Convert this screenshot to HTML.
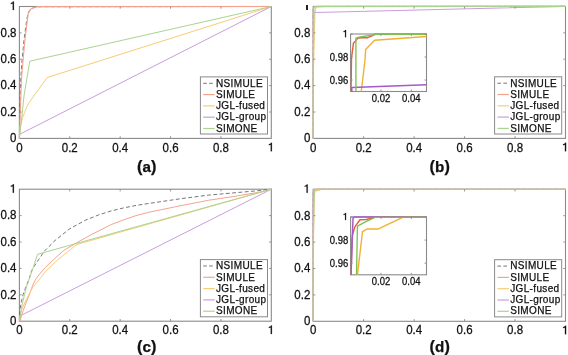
<!DOCTYPE html>
<html><head><meta charset="utf-8"><style>
html,body{margin:0;padding:0;background:#fff;}
body{width:568px;height:355px;overflow:hidden;}
svg{display:block;will-change:transform;}
text{font-family:"Liberation Sans", sans-serif;fill:#111;stroke:#111;stroke-width:0.25px;}
</style></head><body>
<svg width="568" height="355" viewBox="0 0 568 355">
<rect width="568" height="355" fill="#fff"/>
<rect x="19.4" y="6.5" width="251.9" height="131.9" fill="none" stroke="#8a8a8a" stroke-width="1.1"/>
<polyline points="19.4,138.4 19.5,122 20,100 20.7,80 21.9,62 24,40 26.4,22 28,13 30.5,9.2 34,7.5 40,6.7 271.3,6.5" fill="none" stroke="#666666" stroke-width="0.9" stroke-linejoin="round" stroke-dasharray="3.9,2.4"/>
<polyline points="19.4,138.4 19.6,130 20,122 20.7,100 21.4,80 23,61 24.9,40 27.4,20 28.3,13.4 30.8,9 34.6,7.3 38.4,6.6 271.3,6.5" fill="none" stroke="#f4a48e" stroke-width="1.1" stroke-linejoin="round"/>
<polyline points="19.4,138.4 20.71,124.55 22.7,117.56 24.59,112.55 26.5,107.4 28.39,103.6 33.81,95.99 47.26,77.5 271.3,6.5" fill="none" stroke="#f8cc78" stroke-width="1.0" stroke-linejoin="round"/>
<polyline points="19.4,134.44 271.3,6.5" fill="none" stroke="#c89ede" stroke-width="1.0" stroke-linejoin="round"/>
<polyline points="19.4,138.4 21.74,117.56 24.01,95.99 29.73,61.24 271.3,6.5" fill="none" stroke="#aad490" stroke-width="1.0" stroke-linejoin="round"/>
<line x1="69.78" y1="138.4" x2="69.78" y2="136.2" stroke="#8a8a8a" stroke-width="0.9"/>
<line x1="69.78" y1="6.5" x2="69.78" y2="8.7" stroke="#8a8a8a" stroke-width="0.9"/>
<line x1="19.4" y1="112.02" x2="21.6" y2="112.02" stroke="#8a8a8a" stroke-width="0.9"/>
<line x1="271.3" y1="112.02" x2="269.1" y2="112.02" stroke="#8a8a8a" stroke-width="0.9"/>
<line x1="120.16" y1="138.4" x2="120.16" y2="136.2" stroke="#8a8a8a" stroke-width="0.9"/>
<line x1="120.16" y1="6.5" x2="120.16" y2="8.7" stroke="#8a8a8a" stroke-width="0.9"/>
<line x1="19.4" y1="85.64" x2="21.6" y2="85.64" stroke="#8a8a8a" stroke-width="0.9"/>
<line x1="271.3" y1="85.64" x2="269.1" y2="85.64" stroke="#8a8a8a" stroke-width="0.9"/>
<line x1="170.54" y1="138.4" x2="170.54" y2="136.2" stroke="#8a8a8a" stroke-width="0.9"/>
<line x1="170.54" y1="6.5" x2="170.54" y2="8.7" stroke="#8a8a8a" stroke-width="0.9"/>
<line x1="19.4" y1="59.26" x2="21.6" y2="59.26" stroke="#8a8a8a" stroke-width="0.9"/>
<line x1="271.3" y1="59.26" x2="269.1" y2="59.26" stroke="#8a8a8a" stroke-width="0.9"/>
<line x1="220.92" y1="138.4" x2="220.92" y2="136.2" stroke="#8a8a8a" stroke-width="0.9"/>
<line x1="220.92" y1="6.5" x2="220.92" y2="8.7" stroke="#8a8a8a" stroke-width="0.9"/>
<line x1="19.4" y1="32.88" x2="21.6" y2="32.88" stroke="#8a8a8a" stroke-width="0.9"/>
<line x1="271.3" y1="32.88" x2="269.1" y2="32.88" stroke="#8a8a8a" stroke-width="0.9"/>
<text transform="translate(19.4,151.55) scale(1,1.08)" text-anchor="middle" font-size="11.5">0</text>
<text transform="translate(16.5,142.25) scale(1,1.08)" text-anchor="end" font-size="11.5">0</text>
<text transform="translate(69.78,151.55) scale(1,1.08)" text-anchor="middle" font-size="11.5">0.2</text>
<text transform="translate(16.5,115.87) scale(1,1.08)" text-anchor="end" font-size="11.5">0.2</text>
<text transform="translate(120.16,151.55) scale(1,1.08)" text-anchor="middle" font-size="11.5">0.4</text>
<text transform="translate(16.5,89.49) scale(1,1.08)" text-anchor="end" font-size="11.5">0.4</text>
<text transform="translate(170.54,151.55) scale(1,1.08)" text-anchor="middle" font-size="11.5">0.6</text>
<text transform="translate(16.5,63.11) scale(1,1.08)" text-anchor="end" font-size="11.5">0.6</text>
<text transform="translate(220.92,151.55) scale(1,1.08)" text-anchor="middle" font-size="11.5">0.8</text>
<text transform="translate(16.5,36.73) scale(1,1.08)" text-anchor="end" font-size="11.5">0.8</text>
<polygon points="271.9,151.25 271.9,142.8 270.98,142.8 270.35,143.65 268.85,144.29 268.85,145.19 270.75,144.73 270.75,151.25" fill="#111" stroke="#111" stroke-width="0.2"/>
<polygon points="13.9,10.05 13.9,1.6 12.98,1.6 12.35,2.45 10.85,3.09 10.85,3.99 12.75,3.53 12.75,10.05" fill="#111" stroke="#111" stroke-width="0.2"/>
<rect x="200.4" y="76.9" width="67.1" height="57.1" fill="#fff" stroke="#8a8a8a" stroke-width="1"/>
<line x1="203.2" y1="83.3" x2="214.7" y2="83.3" stroke="#666666" stroke-width="0.9" stroke-dasharray="3.6,2.4"/>
<text x="216" y="86.6" font-size="10.0" letter-spacing="0.35">NSIMULE</text>
<line x1="203.2" y1="94.6" x2="214.7" y2="94.6" stroke="#f4a48e" stroke-width="1.2"/>
<text x="216" y="97.85" font-size="10.0" letter-spacing="0.35">SIMULE</text>
<line x1="203.2" y1="105.9" x2="214.7" y2="105.9" stroke="#f8cc78" stroke-width="1.2"/>
<text x="216" y="109.1" font-size="10.0" letter-spacing="0.35">JGL-fused</text>
<line x1="203.2" y1="117.2" x2="214.7" y2="117.2" stroke="#c89ede" stroke-width="1.2"/>
<text x="216" y="120.35" font-size="10.0" letter-spacing="0.35">JGL-group</text>
<line x1="203.2" y1="128.5" x2="214.7" y2="128.5" stroke="#aad490" stroke-width="1.2"/>
<text x="216" y="131.6" font-size="10.0" letter-spacing="0.35">SIMONE</text>
<text x="146.8" y="172.3" text-anchor="middle" font-size="16.3" font-weight="bold" letter-spacing="0.1">(<tspan font-size="15.2">a</tspan>)</text>
<rect x="313.2" y="6.4" width="252.3" height="132" fill="none" stroke="#8a8a8a" stroke-width="1.1"/>
<polyline points="313.2,138.4 313.28,59.2 313.23,13 313.3,9.16 313.5,7.76 313.96,7.13 314.71,6.73 316.23,6.6 317.24,6.43 325.81,6.43 565.5,6.4" fill="none" stroke="#666666" stroke-width="0.9" stroke-linejoin="round" stroke-dasharray="3.9,2.4"/>
<polyline points="313.2,138.4 313.28,59.2 313.27,13 313.35,9.16 313.62,7.76 313.68,7.43 314.08,7.17 314.34,6.93 314.66,6.85 315.09,6.84 316.05,6.82 316.76,6.62 317.26,6.43 325.81,6.43 565.5,6.4" fill="none" stroke="#f4a48e" stroke-width="1.1" stroke-linejoin="round"/>
<polyline points="313.2,138.4 313.4,72.4 314.59,26.2 314.97,13 315.6,9.38 315.7,8.18 317.19,7.13 325.81,6.69 565.5,6.4" fill="none" stroke="#f8cc78" stroke-width="1.1" stroke-linejoin="round"/>
<polyline points="313.2,138.4 313.28,59.2 313.4,12.54 325.81,12.23 565.5,6.4" fill="none" stroke="#c89ede" stroke-width="1.1" stroke-linejoin="round"/>
<polyline points="313.2,138.4 313.28,59.2 314.08,6.89 314.74,6.74 316.73,6.53 317.49,6.43 325.81,6.43 565.5,6.4" fill="none" stroke="#aad490" stroke-width="1.2" stroke-linejoin="round"/>
<line x1="363.66" y1="138.4" x2="363.66" y2="136.2" stroke="#8a8a8a" stroke-width="0.9"/>
<line x1="363.66" y1="6.4" x2="363.66" y2="8.6" stroke="#8a8a8a" stroke-width="0.9"/>
<line x1="313.2" y1="112" x2="315.4" y2="112" stroke="#8a8a8a" stroke-width="0.9"/>
<line x1="565.5" y1="112" x2="563.3" y2="112" stroke="#8a8a8a" stroke-width="0.9"/>
<line x1="414.12" y1="138.4" x2="414.12" y2="136.2" stroke="#8a8a8a" stroke-width="0.9"/>
<line x1="414.12" y1="6.4" x2="414.12" y2="8.6" stroke="#8a8a8a" stroke-width="0.9"/>
<line x1="313.2" y1="85.6" x2="315.4" y2="85.6" stroke="#8a8a8a" stroke-width="0.9"/>
<line x1="565.5" y1="85.6" x2="563.3" y2="85.6" stroke="#8a8a8a" stroke-width="0.9"/>
<line x1="464.58" y1="138.4" x2="464.58" y2="136.2" stroke="#8a8a8a" stroke-width="0.9"/>
<line x1="464.58" y1="6.4" x2="464.58" y2="8.6" stroke="#8a8a8a" stroke-width="0.9"/>
<line x1="313.2" y1="59.2" x2="315.4" y2="59.2" stroke="#8a8a8a" stroke-width="0.9"/>
<line x1="565.5" y1="59.2" x2="563.3" y2="59.2" stroke="#8a8a8a" stroke-width="0.9"/>
<line x1="515.04" y1="138.4" x2="515.04" y2="136.2" stroke="#8a8a8a" stroke-width="0.9"/>
<line x1="515.04" y1="6.4" x2="515.04" y2="8.6" stroke="#8a8a8a" stroke-width="0.9"/>
<line x1="313.2" y1="32.8" x2="315.4" y2="32.8" stroke="#8a8a8a" stroke-width="0.9"/>
<line x1="565.5" y1="32.8" x2="563.3" y2="32.8" stroke="#8a8a8a" stroke-width="0.9"/>
<text transform="translate(313.2,151.55) scale(1,1.08)" text-anchor="middle" font-size="11.5">0</text>
<text transform="translate(310.3,142.25) scale(1,1.08)" text-anchor="end" font-size="11.5">0</text>
<text transform="translate(363.66,151.55) scale(1,1.08)" text-anchor="middle" font-size="11.5">0.2</text>
<text transform="translate(310.3,115.85) scale(1,1.08)" text-anchor="end" font-size="11.5">0.2</text>
<text transform="translate(414.12,151.55) scale(1,1.08)" text-anchor="middle" font-size="11.5">0.4</text>
<text transform="translate(310.3,89.45) scale(1,1.08)" text-anchor="end" font-size="11.5">0.4</text>
<text transform="translate(464.58,151.55) scale(1,1.08)" text-anchor="middle" font-size="11.5">0.6</text>
<text transform="translate(310.3,63.05) scale(1,1.08)" text-anchor="end" font-size="11.5">0.6</text>
<text transform="translate(515.04,151.55) scale(1,1.08)" text-anchor="middle" font-size="11.5">0.8</text>
<text transform="translate(310.3,36.65) scale(1,1.08)" text-anchor="end" font-size="11.5">0.8</text>
<polygon points="566.1,151.25 566.1,142.8 565.18,142.8 564.55,143.65 563.05,144.29 563.05,145.19 564.95,144.73 564.95,151.25" fill="#111" stroke="#111" stroke-width="0.2"/>
<rect x="494.6" y="76.8" width="67.1" height="57.2" fill="#fff" stroke="#8a8a8a" stroke-width="1"/>
<line x1="497.4" y1="83.2" x2="508.9" y2="83.2" stroke="#666666" stroke-width="0.9" stroke-dasharray="3.6,2.4"/>
<text x="510.2" y="86.5" font-size="10.0" letter-spacing="0.35">NSIMULE</text>
<line x1="497.4" y1="94.5" x2="508.9" y2="94.5" stroke="#f4a48e" stroke-width="1.2"/>
<text x="510.2" y="97.75" font-size="10.0" letter-spacing="0.35">SIMULE</text>
<line x1="497.4" y1="105.8" x2="508.9" y2="105.8" stroke="#f8cc78" stroke-width="1.2"/>
<text x="510.2" y="109" font-size="10.0" letter-spacing="0.35">JGL-fused</text>
<line x1="497.4" y1="117.1" x2="508.9" y2="117.1" stroke="#c89ede" stroke-width="1.2"/>
<text x="510.2" y="120.25" font-size="10.0" letter-spacing="0.35">JGL-group</text>
<line x1="497.4" y1="128.4" x2="508.9" y2="128.4" stroke="#aad490" stroke-width="1.2"/>
<text x="510.2" y="131.5" font-size="10.0" letter-spacing="0.35">SIMONE</text>
<text x="439.8" y="172.3" text-anchor="middle" font-size="16.3" font-weight="bold" letter-spacing="0.1">(<tspan font-size="15.2">b</tspan>)</text>
<rect x="306" y="5" width="2" height="5" fill="#222"/>
<rect x="350.6" y="34" width="75.9" height="57.5" fill="#fff" stroke="#8a8a8a" stroke-width="1.1"/>
<clipPath id="clipb"><rect x="350.6" y="33" width="76.9" height="58.5"/></clipPath>
<g clip-path="url(#clipb)">
<polyline points="350.9,103 350.99,91.5 351.51,58.03 353.1,45.84 353.48,42.97 355.91,40.67 357.43,38.6 359.4,37.91 361.99,37.79 367.75,37.68 372,35.95 375.04,34.23 426.5,34.23" fill="none" stroke="#e06040" stroke-width="1.45" stroke-linejoin="round"/>
<polyline points="360.62,103 361.23,91.5 365.02,59.99 365.63,49.52 374.58,40.32 426.5,36.53" fill="none" stroke="#f2b030" stroke-width="1.4" stroke-linejoin="round"/>
<polyline points="351.81,103 351.81,87.47 426.5,84.83" fill="none" stroke="#a858c8" stroke-width="1.5" stroke-linejoin="round"/>
<polyline points="355.91,103 355.91,38.25 359.86,36.99 371.85,35.15 376.41,34.23 426.5,34.23" fill="none" stroke="#80c050" stroke-width="1.35" stroke-linejoin="round"/>
</g>
<line x1="380.96" y1="91.5" x2="380.96" y2="89.5" stroke="#8a8a8a" stroke-width="0.9"/>
<line x1="380.96" y1="34" x2="380.96" y2="36" stroke="#8a8a8a" stroke-width="0.9"/>
<text transform="translate(380.96,102.1) scale(1,1.1)" text-anchor="middle" font-size="9.5">0.02</text>
<line x1="411.32" y1="91.5" x2="411.32" y2="89.5" stroke="#8a8a8a" stroke-width="0.9"/>
<line x1="411.32" y1="34" x2="411.32" y2="36" stroke="#8a8a8a" stroke-width="0.9"/>
<text transform="translate(411.32,102.1) scale(1,1.1)" text-anchor="middle" font-size="9.5">0.04</text>
<line x1="350.6" y1="80" x2="352.6" y2="80" stroke="#8a8a8a" stroke-width="0.9"/>
<line x1="426.5" y1="80" x2="424.5" y2="80" stroke="#8a8a8a" stroke-width="0.9"/>
<text transform="translate(348.2,83.5) scale(1,1.1)" text-anchor="end" font-size="9.5">0.96</text>
<line x1="350.6" y1="57" x2="352.6" y2="57" stroke="#8a8a8a" stroke-width="0.9"/>
<line x1="426.5" y1="57" x2="424.5" y2="57" stroke="#8a8a8a" stroke-width="0.9"/>
<text transform="translate(348.2,60.5) scale(1,1.1)" text-anchor="end" font-size="9.5">0.98</text>
<line x1="350.6" y1="34" x2="352.6" y2="34" stroke="#8a8a8a" stroke-width="0.9"/>
<line x1="426.5" y1="34" x2="424.5" y2="34" stroke="#8a8a8a" stroke-width="0.9"/>
<polygon points="346.05,37.2 346.05,30.09 345.29,30.09 344.77,30.8 343.54,31.35 343.54,32.1 345.1,31.71 345.1,37.2" fill="#111" stroke="#111" stroke-width="0.2"/>
<rect x="19.4" y="189.2" width="251.9" height="132" fill="none" stroke="#8a8a8a" stroke-width="1.1"/>
<polyline points="19.4,321.2 20.91,315.52 271.3,189.2" fill="none" stroke="#c89ede" stroke-width="1.0" stroke-linejoin="round"/>
<polyline points="19.4,321.2 19.7,314.01 20.41,307 21.29,301.93 23.2,294.27 25.5,288 29.6,277.51 31.24,271.75 33.05,268 38.75,259.29 44.99,250.5 54.99,240.55 61.22,235.53 70.03,228.6 85.9,219.96 98.5,214.94 111.09,210.98 123.43,207.94 136.03,205.44 148.5,203.46 156.94,202.27 182,198.51 208.33,195.14 235.03,192.76 259.96,190.52 271.3,189.2" fill="none" stroke="#666666" stroke-width="0.9" stroke-linejoin="round" stroke-dasharray="3.9,2.4"/>
<polyline points="20.16,321.2 21.39,316.05 23.2,310.64 26,302.98 27.71,298.76 31.49,288.86 32.7,285.1 35.9,278.83 40.36,273.15 44.79,268 51.24,261.8 63.73,250.45 76.25,243.06 90.94,234.87 111.09,224.58 123.43,219.96 136.03,215.6 148.5,212.3 156.94,210.58 182,205.44 208.33,200.29 235.03,196.25 259.96,192.1 271.3,189.2" fill="none" stroke="#f4a48e" stroke-width="1.0" stroke-linejoin="round"/>
<polyline points="19.4,321.2 19.9,317.24 21.99,308.92 26.96,298.1 32.4,288 37.21,281.86 43.51,274.34 44.99,271.75 49.12,268 57.44,259.95 70.03,249.92 76.25,244.9 78.6,243.98 271.3,189.2" fill="none" stroke="#f8cc78" stroke-width="1.0" stroke-linejoin="round"/>
<polyline points="19.4,321.2 21.29,308.3 26.1,288 33.05,268 37.51,254.28 271.3,189.2" fill="none" stroke="#aad490" stroke-width="1.0" stroke-linejoin="round"/>
<line x1="69.78" y1="321.2" x2="69.78" y2="319" stroke="#8a8a8a" stroke-width="0.9"/>
<line x1="69.78" y1="189.2" x2="69.78" y2="191.4" stroke="#8a8a8a" stroke-width="0.9"/>
<line x1="19.4" y1="294.8" x2="21.6" y2="294.8" stroke="#8a8a8a" stroke-width="0.9"/>
<line x1="271.3" y1="294.8" x2="269.1" y2="294.8" stroke="#8a8a8a" stroke-width="0.9"/>
<line x1="120.16" y1="321.2" x2="120.16" y2="319" stroke="#8a8a8a" stroke-width="0.9"/>
<line x1="120.16" y1="189.2" x2="120.16" y2="191.4" stroke="#8a8a8a" stroke-width="0.9"/>
<line x1="19.4" y1="268.4" x2="21.6" y2="268.4" stroke="#8a8a8a" stroke-width="0.9"/>
<line x1="271.3" y1="268.4" x2="269.1" y2="268.4" stroke="#8a8a8a" stroke-width="0.9"/>
<line x1="170.54" y1="321.2" x2="170.54" y2="319" stroke="#8a8a8a" stroke-width="0.9"/>
<line x1="170.54" y1="189.2" x2="170.54" y2="191.4" stroke="#8a8a8a" stroke-width="0.9"/>
<line x1="19.4" y1="242" x2="21.6" y2="242" stroke="#8a8a8a" stroke-width="0.9"/>
<line x1="271.3" y1="242" x2="269.1" y2="242" stroke="#8a8a8a" stroke-width="0.9"/>
<line x1="220.92" y1="321.2" x2="220.92" y2="319" stroke="#8a8a8a" stroke-width="0.9"/>
<line x1="220.92" y1="189.2" x2="220.92" y2="191.4" stroke="#8a8a8a" stroke-width="0.9"/>
<line x1="19.4" y1="215.6" x2="21.6" y2="215.6" stroke="#8a8a8a" stroke-width="0.9"/>
<line x1="271.3" y1="215.6" x2="269.1" y2="215.6" stroke="#8a8a8a" stroke-width="0.9"/>
<text transform="translate(19.4,334.35) scale(1,1.08)" text-anchor="middle" font-size="11.5">0</text>
<text transform="translate(16.5,325.05) scale(1,1.08)" text-anchor="end" font-size="11.5">0</text>
<text transform="translate(69.78,334.35) scale(1,1.08)" text-anchor="middle" font-size="11.5">0.2</text>
<text transform="translate(16.5,298.65) scale(1,1.08)" text-anchor="end" font-size="11.5">0.2</text>
<text transform="translate(120.16,334.35) scale(1,1.08)" text-anchor="middle" font-size="11.5">0.4</text>
<text transform="translate(16.5,272.25) scale(1,1.08)" text-anchor="end" font-size="11.5">0.4</text>
<text transform="translate(170.54,334.35) scale(1,1.08)" text-anchor="middle" font-size="11.5">0.6</text>
<text transform="translate(16.5,245.85) scale(1,1.08)" text-anchor="end" font-size="11.5">0.6</text>
<text transform="translate(220.92,334.35) scale(1,1.08)" text-anchor="middle" font-size="11.5">0.8</text>
<text transform="translate(16.5,219.45) scale(1,1.08)" text-anchor="end" font-size="11.5">0.8</text>
<polygon points="271.9,334.05 271.9,325.6 270.98,325.6 270.35,326.45 268.85,327.09 268.85,327.99 270.75,327.53 270.75,334.05" fill="#111" stroke="#111" stroke-width="0.2"/>
<polygon points="13.9,192.75 13.9,184.3 12.98,184.3 12.35,185.15 10.85,185.79 10.85,186.69 12.75,186.23 12.75,192.75" fill="#111" stroke="#111" stroke-width="0.2"/>
<rect x="200.4" y="259.6" width="67.1" height="57.2" fill="#fff" stroke="#8a8a8a" stroke-width="1"/>
<line x1="203.2" y1="266" x2="214.7" y2="266" stroke="#666666" stroke-width="0.9" stroke-dasharray="3.6,2.4"/>
<text x="216" y="269.3" font-size="10.0" letter-spacing="0.35">NSIMULE</text>
<line x1="203.2" y1="277.3" x2="214.7" y2="277.3" stroke="#f4a48e" stroke-width="1.2"/>
<text x="216" y="280.55" font-size="10.0" letter-spacing="0.35">SIMULE</text>
<line x1="203.2" y1="288.6" x2="214.7" y2="288.6" stroke="#f8cc78" stroke-width="1.2"/>
<text x="216" y="291.8" font-size="10.0" letter-spacing="0.35">JGL-fused</text>
<line x1="203.2" y1="299.9" x2="214.7" y2="299.9" stroke="#c89ede" stroke-width="1.2"/>
<text x="216" y="303.05" font-size="10.0" letter-spacing="0.35">JGL-group</text>
<line x1="203.2" y1="311.2" x2="214.7" y2="311.2" stroke="#aad490" stroke-width="1.2"/>
<text x="216" y="314.3" font-size="10.0" letter-spacing="0.35">SIMONE</text>
<text x="146.8" y="352.3" text-anchor="middle" font-size="16.3" font-weight="bold" letter-spacing="0.1">(<tspan font-size="15.2">c</tspan>)</text>
<rect x="313.2" y="189.3" width="252.3" height="132" fill="none" stroke="#8a8a8a" stroke-width="1.1"/>
<polyline points="313.2,321.3 313.28,242.1 313.25,195.9 313.35,191.94 313.5,190.62 314.21,189.83 315.72,189.5 317.24,189.33 325.81,189.33 565.5,189.3" fill="none" stroke="#666666" stroke-width="0.9" stroke-linejoin="round" stroke-dasharray="3.9,2.4"/>
<polyline points="313.2,321.3 313.28,242.1 313.27,195.9 313.42,191.94 313.52,191.33 313.93,190.41 314.76,189.63 315.8,189.59 317.26,189.33 325.81,189.33 565.5,189.3" fill="none" stroke="#f4a48e" stroke-width="1.1" stroke-linejoin="round"/>
<polyline points="313.2,321.3 313.4,242.1 314.08,202.5 314.34,195.9 315.02,191.94 315.17,190.98 316,190.67 317.82,190.67 321.95,189.33 325.81,189.33 565.5,189.3" fill="none" stroke="#f8cc78" stroke-width="1.1" stroke-linejoin="round"/>
<polyline points="313.2,321.3 313.28,242.1 313.28,195.9 313.6,189.43 313.83,189.3 325.81,189.3 565.5,189.3" fill="none" stroke="#c89ede" stroke-width="1.1" stroke-linejoin="round"/>
<polyline points="313.2,321.3 313.28,242.1 314.18,195.9 314.34,190.34 315.75,189.83 317.26,189.35 325.81,189.33 565.5,189.3" fill="none" stroke="#aad490" stroke-width="1.2" stroke-linejoin="round"/>
<line x1="363.66" y1="321.3" x2="363.66" y2="319.1" stroke="#8a8a8a" stroke-width="0.9"/>
<line x1="363.66" y1="189.3" x2="363.66" y2="191.5" stroke="#8a8a8a" stroke-width="0.9"/>
<line x1="313.2" y1="294.9" x2="315.4" y2="294.9" stroke="#8a8a8a" stroke-width="0.9"/>
<line x1="565.5" y1="294.9" x2="563.3" y2="294.9" stroke="#8a8a8a" stroke-width="0.9"/>
<line x1="414.12" y1="321.3" x2="414.12" y2="319.1" stroke="#8a8a8a" stroke-width="0.9"/>
<line x1="414.12" y1="189.3" x2="414.12" y2="191.5" stroke="#8a8a8a" stroke-width="0.9"/>
<line x1="313.2" y1="268.5" x2="315.4" y2="268.5" stroke="#8a8a8a" stroke-width="0.9"/>
<line x1="565.5" y1="268.5" x2="563.3" y2="268.5" stroke="#8a8a8a" stroke-width="0.9"/>
<line x1="464.58" y1="321.3" x2="464.58" y2="319.1" stroke="#8a8a8a" stroke-width="0.9"/>
<line x1="464.58" y1="189.3" x2="464.58" y2="191.5" stroke="#8a8a8a" stroke-width="0.9"/>
<line x1="313.2" y1="242.1" x2="315.4" y2="242.1" stroke="#8a8a8a" stroke-width="0.9"/>
<line x1="565.5" y1="242.1" x2="563.3" y2="242.1" stroke="#8a8a8a" stroke-width="0.9"/>
<line x1="515.04" y1="321.3" x2="515.04" y2="319.1" stroke="#8a8a8a" stroke-width="0.9"/>
<line x1="515.04" y1="189.3" x2="515.04" y2="191.5" stroke="#8a8a8a" stroke-width="0.9"/>
<line x1="313.2" y1="215.7" x2="315.4" y2="215.7" stroke="#8a8a8a" stroke-width="0.9"/>
<line x1="565.5" y1="215.7" x2="563.3" y2="215.7" stroke="#8a8a8a" stroke-width="0.9"/>
<text transform="translate(313.2,334.45) scale(1,1.08)" text-anchor="middle" font-size="11.5">0</text>
<text transform="translate(310.3,325.15) scale(1,1.08)" text-anchor="end" font-size="11.5">0</text>
<text transform="translate(363.66,334.45) scale(1,1.08)" text-anchor="middle" font-size="11.5">0.2</text>
<text transform="translate(310.3,298.75) scale(1,1.08)" text-anchor="end" font-size="11.5">0.2</text>
<text transform="translate(414.12,334.45) scale(1,1.08)" text-anchor="middle" font-size="11.5">0.4</text>
<text transform="translate(310.3,272.35) scale(1,1.08)" text-anchor="end" font-size="11.5">0.4</text>
<text transform="translate(464.58,334.45) scale(1,1.08)" text-anchor="middle" font-size="11.5">0.6</text>
<text transform="translate(310.3,245.95) scale(1,1.08)" text-anchor="end" font-size="11.5">0.6</text>
<text transform="translate(515.04,334.45) scale(1,1.08)" text-anchor="middle" font-size="11.5">0.8</text>
<text transform="translate(310.3,219.55) scale(1,1.08)" text-anchor="end" font-size="11.5">0.8</text>
<polygon points="566.1,334.15 566.1,325.7 565.18,325.7 564.55,326.55 563.05,327.19 563.05,328.09 564.95,327.63 564.95,334.15" fill="#111" stroke="#111" stroke-width="0.2"/>
<polygon points="307.7,192.85 307.7,184.4 306.78,184.4 306.15,185.25 304.65,185.89 304.65,186.79 306.55,186.33 306.55,192.85" fill="#111" stroke="#111" stroke-width="0.2"/>
<rect x="494.6" y="259.7" width="67.1" height="57.2" fill="#fff" stroke="#8a8a8a" stroke-width="1"/>
<line x1="497.4" y1="266.1" x2="508.9" y2="266.1" stroke="#666666" stroke-width="0.9" stroke-dasharray="3.6,2.4"/>
<text x="510.2" y="269.4" font-size="10.0" letter-spacing="0.35">NSIMULE</text>
<line x1="497.4" y1="277.4" x2="508.9" y2="277.4" stroke="#f4a48e" stroke-width="1.2"/>
<text x="510.2" y="280.65" font-size="10.0" letter-spacing="0.35">SIMULE</text>
<line x1="497.4" y1="288.7" x2="508.9" y2="288.7" stroke="#f8cc78" stroke-width="1.2"/>
<text x="510.2" y="291.9" font-size="10.0" letter-spacing="0.35">JGL-fused</text>
<line x1="497.4" y1="300" x2="508.9" y2="300" stroke="#c89ede" stroke-width="1.2"/>
<text x="510.2" y="303.15" font-size="10.0" letter-spacing="0.35">JGL-group</text>
<line x1="497.4" y1="311.3" x2="508.9" y2="311.3" stroke="#aad490" stroke-width="1.2"/>
<text x="510.2" y="314.4" font-size="10.0" letter-spacing="0.35">SIMONE</text>
<text x="439.8" y="352.3" text-anchor="middle" font-size="16.3" font-weight="bold" letter-spacing="0.1">(<tspan font-size="15.2">d</tspan>)</text>
<rect x="350.6" y="216.9" width="75.9" height="57.9" fill="#fff" stroke="#8a8a8a" stroke-width="1.1"/>
<clipPath id="clipd"><rect x="350.6" y="215.9" width="76.9" height="58.9"/></clipPath>
<g clip-path="url(#clipd)">
<polyline points="350.9,286.38 350.99,274.8 351.91,240.06 352.5,234.73 355,226.63 360.01,219.79 366.24,219.45 375.04,217.13 426.5,217.13" fill="none" stroke="#e06040" stroke-width="1.45" stroke-linejoin="round"/>
<polyline points="356.98,286.38 357.43,274.8 361.53,240.06 362.44,231.61 367.45,228.94 378.38,228.94 403.27,217.13 426.5,217.13" fill="none" stroke="#f2b030" stroke-width="1.4" stroke-linejoin="round"/>
<polyline points="350.75,286.38 351.06,274.8 353.03,218.06 354.4,216.9 426.5,216.9" fill="none" stroke="#a858c8" stroke-width="1.5" stroke-linejoin="round"/>
<polyline points="356.37,286.38 356.52,274.8 357.43,226.05 365.93,221.53 375.04,217.36 426.5,217.13" fill="none" stroke="#80c050" stroke-width="1.35" stroke-linejoin="round"/>
</g>
<line x1="380.96" y1="274.8" x2="380.96" y2="272.8" stroke="#8a8a8a" stroke-width="0.9"/>
<line x1="380.96" y1="216.9" x2="380.96" y2="218.9" stroke="#8a8a8a" stroke-width="0.9"/>
<text transform="translate(380.96,285.4) scale(1,1.1)" text-anchor="middle" font-size="9.5">0.02</text>
<line x1="411.32" y1="274.8" x2="411.32" y2="272.8" stroke="#8a8a8a" stroke-width="0.9"/>
<line x1="411.32" y1="216.9" x2="411.32" y2="218.9" stroke="#8a8a8a" stroke-width="0.9"/>
<text transform="translate(411.32,285.4) scale(1,1.1)" text-anchor="middle" font-size="9.5">0.04</text>
<line x1="350.6" y1="263.22" x2="352.6" y2="263.22" stroke="#8a8a8a" stroke-width="0.9"/>
<line x1="426.5" y1="263.22" x2="424.5" y2="263.22" stroke="#8a8a8a" stroke-width="0.9"/>
<text transform="translate(348.2,266.72) scale(1,1.1)" text-anchor="end" font-size="9.5">0.96</text>
<line x1="350.6" y1="240.06" x2="352.6" y2="240.06" stroke="#8a8a8a" stroke-width="0.9"/>
<line x1="426.5" y1="240.06" x2="424.5" y2="240.06" stroke="#8a8a8a" stroke-width="0.9"/>
<text transform="translate(348.2,243.56) scale(1,1.1)" text-anchor="end" font-size="9.5">0.98</text>
<line x1="350.6" y1="216.9" x2="352.6" y2="216.9" stroke="#8a8a8a" stroke-width="0.9"/>
<line x1="426.5" y1="216.9" x2="424.5" y2="216.9" stroke="#8a8a8a" stroke-width="0.9"/>
<polygon points="346.05,220.1 346.05,212.99 345.29,212.99 344.77,213.7 343.54,214.25 343.54,215 345.1,214.61 345.1,220.1" fill="#111" stroke="#111" stroke-width="0.2"/>
</svg>
</body></html>
